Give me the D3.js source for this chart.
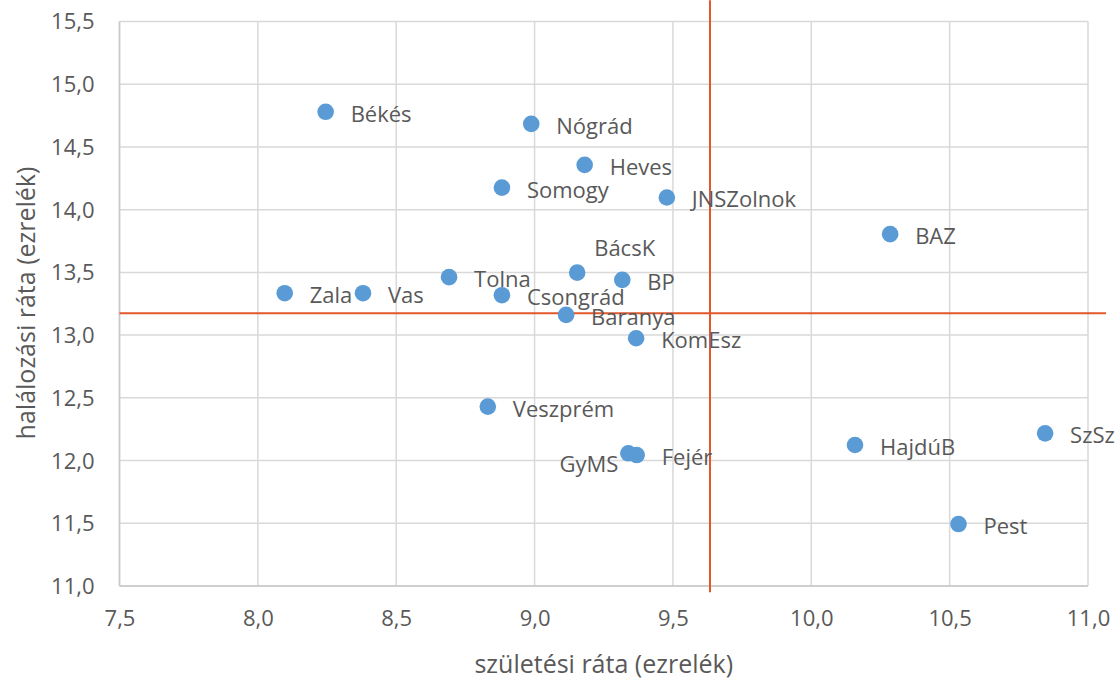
<!DOCTYPE html>
<html>
<head>
<meta charset="utf-8">
<script src="https://cdn.jsdelivr.net/npm/d3@7"></script>
<style>
  html, body { margin: 0; padding: 0; background: #ffffff; }
  svg { display: block; }
  text { font-family: "Open Sans", "Noto Sans", sans-serif; fill: #595959; }
</style>
</head>
<body>
<svg id="chart" width="1115" height="679"></svg>
<script>
// ---- data ----
const counties = ["Békés","Nógrád","Heves","Somogy","JNSZolnok","BAZ","BácsK","Tolna","BP","Csongrád","Baranya","KomEsz","Veszprém","Zala","Vas","GyMS","Fejér","HajdúB","SzSz","Pest"];
const birthRate = [8.245, 8.988, 9.181, 8.882, 9.478, 10.285, 9.154, 8.691, 9.317, 8.882, 9.114, 9.367, 8.831, 8.097, 8.380, 9.339, 9.369, 10.158, 10.845, 10.532];
const deathRate = [14.78, 14.684, 14.357, 14.176, 14.097, 13.805, 13.498, 13.462, 13.440, 13.318, 13.161, 12.975, 12.430, 13.334, 13.334, 12.058, 12.044, 12.124, 12.217, 11.494];
const xTicks = [7.5, 8.0, 8.5, 9.0, 9.5, 10.0, 10.5, 11.0];
const yTicks = [11.0, 11.5, 12.0, 12.5, 13.0, 13.5, 14.0, 14.5, 15.0, 15.5];
// average reference lines (crossing lines)
const meanBirth = 9.634;
const meanDeath = 13.175;
const hLineExtent = [7.5, 11.065];
const vLineExtent = [10.95, 15.67];
const xTitle = "születési ráta (ezrelék)";
const yTitle = "halálozási ráta (ezrelék)";

// ---- layout ----
const svg = d3.select("#chart");
const L = 119.5, R = 1088, T = 21.5, B = 586;
const x = d3.scaleLinear().domain([7.5, 11.0]).range([L, R]);
const y = d3.scaleLinear().domain([11.0, 15.5]).range([B, T]);
const fmt = d => d.toFixed(1).replace(".", ",");

// gridlines
svg.append("g").selectAll("line").data(xTicks).join("line")
  .attr("x1", d => x(d)).attr("x2", d => x(d)).attr("y1", T).attr("y2", B)
  .attr("stroke", "#d9d9d9").attr("stroke-width", 1.5);
svg.append("g").selectAll("line").data(yTicks).join("line")
  .attr("y1", d => y(d)).attr("y2", d => y(d)).attr("x1", L).attr("x2", R)
  .attr("stroke", "#d9d9d9").attr("stroke-width", 1.5);

// axis lines
svg.append("line").attr("x1", L).attr("x2", L).attr("y1", T).attr("y2", B)
  .attr("stroke", "#c8c8c8").attr("stroke-width", 1.5);
svg.append("line").attr("x1", L).attr("x2", R).attr("y1", B).attr("y2", B)
  .attr("stroke", "#c8c8c8").attr("stroke-width", 1.5);

// axes (labels only) via d3 axes
const xAxis = d3.axisBottom(x).tickValues(xTicks).tickFormat(fmt).tickSize(0).tickPadding(0);
const gx = svg.append("g").attr("transform", `translate(0,${B + 33})`).call(xAxis);
gx.select(".domain").remove();
gx.selectAll("text").attr("font-size", 22).attr("dy", "0.32em").style("font-family", "Open Sans").attr("fill", "#595959");

const yAxis = d3.axisLeft(y).tickValues(yTicks).tickFormat(fmt).tickSize(0).tickPadding(0);
const gy = svg.append("g").attr("transform", `translate(${L - 25},0)`).call(yAxis);
gy.select(".domain").remove();
gy.selectAll("text").attr("font-size", 22).attr("dy", "0.34em").style("font-family", "Open Sans").attr("fill", "#595959");

// axis titles
svg.append("text").attr("x", (L + R) / 2).attr("y", 663)
  .attr("text-anchor", "middle").attr("dominant-baseline", "central")
  .attr("font-size", 25).text(xTitle);
svg.append("text").attr("transform", `translate(25,${303}) rotate(-90)`)
  .attr("text-anchor", "middle").attr("dominant-baseline", "central")
  .attr("font-size", 25).text(yTitle);

// reference lines
svg.append("line")
  .attr("x1", x(hLineExtent[0])).attr("x2", x(hLineExtent[1]))
  .attr("y1", y(meanDeath)).attr("y2", y(meanDeath))
  .attr("stroke", "#e2572b").attr("stroke-width", 2);
svg.append("line")
  .attr("x1", x(meanBirth)).attr("x2", x(meanBirth))
  .attr("y1", y(vLineExtent[0])).attr("y2", y(vLineExtent[1]))
  .attr("stroke", "#e2572b").attr("stroke-width", 2);

// points
const pts = counties.map((c, i) => ({ name: c, bx: birthRate[i], dy: deathRate[i] }));
svg.append("g").selectAll("circle").data(pts).join("circle")
  .attr("cx", d => x(d.bx)).attr("cy", d => y(d.dy)).attr("r", 8.3)
  .attr("fill", "#5b9bd5");

// labels (default: right of point)
const labelPos = name => {
  if (name === "BácsK") return { dx: 17, dy: -26, anchor: "start" };
  if (name === "GyMS") return { dx: -10, dy: 10, anchor: "end" };
  return { dx: 25, dy: 1, anchor: "start" };
};
svg.append("g").selectAll("text").data(pts).join("text")
  .attr("x", d => x(d.bx) + labelPos(d.name).dx)
  .attr("y", d => y(d.dy) + labelPos(d.name).dy)
  .attr("text-anchor", d => labelPos(d.name).anchor)
  .attr("dominant-baseline", "central")
  .attr("font-size", 22)
  .text(d => d.name);
</script>
</body>
</html>
